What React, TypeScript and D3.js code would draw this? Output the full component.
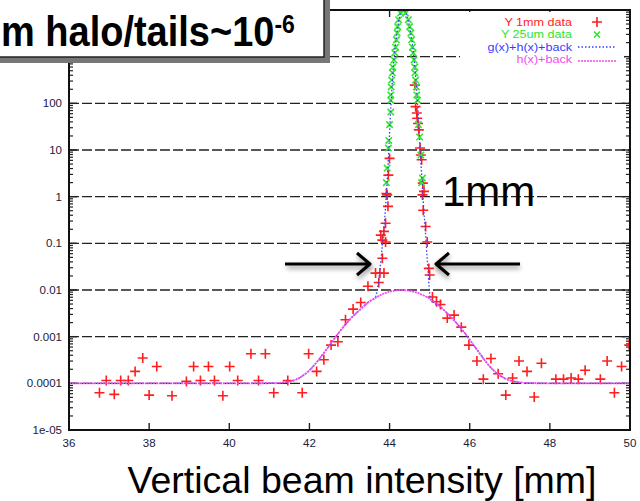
import React from "react";
import * as d3 from "d3";

const W = 640;
const H = 501;

const xTicks = [36, 38, 40, 42, 44, 46, 48, 50];
const yTickValues = [1e-5, 1e-4, 1e-3, 1e-2, 1e-1, 1, 10, 100, 1000, 10000];
const yTickLabels = ["1e-05", "0.0001", "0.001", "0.01", "0.1", "1", "10", "100"];

// Y 1mm data (red +)
const redX = [
  36.76, 36.93, 37.13, 37.29, 37.48, 37.65, 37.84, 38.0, 38.19, 38.57, 38.93, 39.11, 39.28, 39.48, 39.63,
  39.84, 40.01, 40.21, 40.54, 40.73, 40.9, 41.11, 41.46, 41.82, 41.98, 42.18, 42.36, 42.54, 42.71, 42.9,
  43.09, 43.28, 43.46, 43.65, 43.73, 43.76, 43.86, 43.82, 43.9, 43.82, 43.78, 43.86, 43.9, 43.96, 43.94,
  43.92, 43.97, 44.0, 44.63, 44.65, 44.68, 44.69, 44.71, 44.73, 44.76, 44.78, 44.8, 44.83, 44.86, 44.82,
  44.84, 44.9, 44.94, 44.98, 45.0, 45.07, 45.17, 45.27, 45.44, 45.61, 45.79, 45.98, 46.18, 46.53, 46.34,
  46.71, 46.9, 47.07, 47.23, 47.43, 47.61, 47.79, 48.15, 48.34, 48.53, 48.71, 48.88, 49.26, 49.43, 49.61,
  49.79, 49.98,
];
const redV = [
  6.3e-5, 1.15e-4, 5.8e-5, 1.15e-4, 1.15e-4, 1.8e-4, 3.5e-4, 5.6e-5, 2.3e-4, 5.4e-5, 1.1e-4, 2.3e-4, 1.15e-4, 2.3e-4, 1.15e-4,
  5.4e-5, 2.3e-4, 1.15e-4, 4.3e-4, 1.15e-4, 4.3e-4, 6.3e-5, 1.15e-4, 6.3e-5, 4.3e-4, 1.8e-4, 3.2e-4, 6.6e-4, 7.8e-4, 2.3e-3,
  3.9e-3, 5.4e-3, 0.012, 0.023, 0.0145, 0.023, 0.023, 0.048, 0.107, 0.117, 0.15, 0.18, 0.27, 0.62, 1.09,
  1.17, 2.9, 6.6, 245, 85, 62, 48, 37, 27, 11, 7.8, 6.2, 1.95, 1.3, 1.09,
  0.51, 0.23, 0.107, 0.029, 0.021, 0.0071, 0.0056, 0.0049, 0.0025, 0.0029, 0.0016, 6.6e-4, 3.0e-4, 3.4e-4, 1.23e-4,
  1.6e-4, 5.6e-5, 1.3e-4, 3.0e-4, 1.8e-4, 5.1e-5, 2.7e-4, 1.23e-4, 1.23e-4, 1.3e-4, 1.23e-4, 1.9e-4, 1.23e-4, 3.0e-4, 6.3e-5,
  2.3e-4, 6.6e-4,
];

// Y 25um data (green x)
const greenX = [
  44.32, 44.275, 44.225, 44.2, 44.19, 44.17, 44.15, 44.13, 44.11, 44.08, 44.07, 44.05, 44.04, 44.03, 44.03, 44.03,
  44.0, 43.98, 43.97, 43.94, 43.92,
  44.36, 44.4, 44.47, 44.5, 44.53, 44.55, 44.57, 44.59, 44.61, 44.63, 44.63, 44.65, 44.67, 44.68, 44.7, 44.72,
  44.75, 44.78, 44.8, 44.82,
];
const greenV = [
  10000, 8600, 6200, 4400, 3200, 2300, 1600, 1200, 850, 600, 450, 316, 224, 151, 117, 65,
  35, 16, 11, 4.1, 2.0,
  10000, 8600, 6200, 4400, 3200, 2300, 1600, 1200, 850, 600, 450, 316, 224, 151, 117, 35,
  19, 7.8, 2.0, 2.5,
];

// g(x)+h(x)+back (blue dotted)
const blueX = [
  36, 40, 41, 41.5, 41.75, 42, 42.25, 42.5, 42.75, 43, 43.25, 43.5, 43.64, 43.7, 43.8, 43.88, 43.93, 43.98,
  44.03, 44.1, 44.18, 44.27, 44.34, 44.42, 44.52, 44.6, 44.66, 44.72, 44.78, 44.84, 44.9, 44.96, 45.02, 45.25,
  45.5, 45.75, 46, 46.25, 46.5, 46.75, 47, 47.5, 48, 50,
];
const blueV = [
  1e-4, 1e-4, 1.006e-4, 1.09e-4, 1.31e-4, 1.9e-4, 3.36e-4, 6.5e-4, 1.27e-3, 2.3e-3, 3.7e-3, 5.7e-3, 0.0068, 0.011, 0.06, 0.35, 1.5, 10,
  80, 700, 3000, 8500, 11000, 8000, 3500, 1100, 300, 50, 6, 0.8, 0.15, 0.025, 0.0063, 4.5e-3,
  2.8e-3, 1.63e-3, 8.6e-4, 4.37e-4, 2.3e-4, 1.48e-4, 1.16e-4, 1.01e-4, 1e-4, 1e-4,
];

// h(x)+back (magenta dotted)
const magX = [
  36, 40, 41, 41.5, 41.75, 42, 42.25, 42.5, 42.75, 43, 43.25, 43.5, 43.75, 44, 44.3, 44.6, 45, 45.25, 45.5,
  45.75, 46, 46.25, 46.5, 46.75, 47, 47.5, 48, 50,
];
const magV = [
  1e-4, 1e-4, 1.006e-4, 1.09e-4, 1.31e-4, 1.9e-4, 3.36e-4, 6.5e-4, 1.27e-3, 2.3e-3, 3.7e-3, 5.7e-3, 7.6e-3, 9.2e-3, 0.01, 9.2e-3, 6.5e-3, 4.5e-3, 2.8e-3,
  1.63e-3, 8.6e-4, 4.37e-4, 2.3e-4, 1.48e-4, 1.16e-4, 1.01e-4, 1e-4, 1e-4,
];

const legendLabels = ["Y 1mm data", "Y 25um data", "g(x)+h(x)+back", "h(x)+back"];

const RED = "#ff1e1e";
const GREEN = "#2ee62e";
const BLUE = "#3a3aff";
const MAGENTA = "#f04af0";

export default function App() {
  const left = 69, right = 630, top = 10, bottom = 430;
  const x = d3.scaleLinear().domain([36, 50]).range([left, right]);
  const y = d3.scaleLog().domain([1e-5, 1e4]).range([bottom, top]);

  const line = d3
    .line<[number, number]>()
    .x((d) => x(d[0]))
    .y((d) => y(d[1]))
    .curve(d3.curveMonotoneX);

  const bluePts = blueX.map((v, i) => [v, blueV[i]] as [number, number]);
  const magPts = magX.map((v, i) => [v, magV[i]] as [number, number]);

  const minor: number[] = [];
  for (let e = -5; e < 4; e++) {
    for (let m = 2; m <= 9; m++) minor.push(m * Math.pow(10, e));
  }

  const tickColor = "#20203a";

  return (
    <svg
      width={W}
      height={H}
      style={{ position: "absolute", left: 0, top: 0, background: "#fff" }}
      fontFamily="Liberation Sans, Arial, sans-serif"
    >
      <defs>
        <clipPath id="plotClip">
          <rect x={left} y={top} width={right - left} height={bottom - top} />
        </clipPath>
        <filter id="blur" x="-20%" y="-50%" width="140%" height="200%">
          <feGaussianBlur stdDeviation="2.5" />
        </filter>
      </defs>
      <rect x={0} y={0} width={W} height={H} fill="#fff" />

      {/* grid lines */}
      {yTickValues.slice(1, -1).map((v) => (
        <line
          key={"g" + v}
          x1={left}
          x2={right}
          y1={y(v)}
          y2={y(v)}
          stroke="#222"
          strokeWidth={1.4}
          strokeDasharray="10,3"
        />
      ))}

      {/* minor ticks */}
      {minor.map((v, i) => (
        <g key={"m" + i}>
          <line x1={left} x2={left + 4} y1={y(v)} y2={y(v)} stroke="#222" strokeWidth={1.2} />
          <line x1={right - 4} x2={right} y1={y(v)} y2={y(v)} stroke="#222" strokeWidth={1.2} />
        </g>
      ))}
      {yTickValues.map((v) => (
        <g key={"M" + v}>
          <line x1={left} x2={left + 8} y1={y(v)} y2={y(v)} stroke="#222" strokeWidth={1.4} />
          <line x1={right - 8} x2={right} y1={y(v)} y2={y(v)} stroke="#222" strokeWidth={1.4} />
        </g>
      ))}
      {xTicks.map((v) => (
        <g key={"xt" + v}>
          <line x1={x(v)} x2={x(v)} y1={bottom} y2={bottom - 7} stroke="#222" strokeWidth={1.4} />
          <line x1={x(v)} x2={x(v)} y1={top} y2={top + 7} stroke="#222" strokeWidth={1.4} />
        </g>
      ))}

      {/* data */}
      <g clipPath="url(#plotClip)">
        {redX.map((v, i) => {
          const cx = x(v), cy = y(redV[i]);
          return (
            <path
              key={"r" + i}
              d={`M${cx - 5},${cy}H${cx + 5}M${cx},${cy - 5}V${cy + 5}`}
              stroke={RED}
              strokeWidth={1.6}
            />
          );
        })}
        {greenX.map((v, i) => {
          const cx = x(v), cy = y(greenV[i]);
          return (
            <path
              key={"gr" + i}
              d={`M${cx - 3.2},${cy - 3.2}L${cx + 3.2},${cy + 3.2}M${cx - 3.2},${cy + 3.2}L${cx + 3.2},${cy - 3.2}`}
              stroke={GREEN}
              strokeWidth={1.6}
            />
          );
        })}
        <path d={line(bluePts) || ""} fill="none" stroke={BLUE} strokeWidth={1.3} strokeDasharray="1.5,2" />
        <path d={line(magPts) || ""} fill="none" stroke={MAGENTA} strokeWidth={1.8} strokeDasharray="2,0.8" />
      </g>

      {/* frame */}
      <rect x={left} y={top} width={right - left} height={bottom - top} fill="none" stroke="#111" strokeWidth={2} />

      {/* tick labels */}
      {yTickLabels.map((t, i) => (
        <text
          key={"yl" + t}
          x={62}
          y={y(yTickValues[i]) + 4}
          textAnchor="end"
          fontSize={11.5}
          fill={tickColor}
        >
          {t}
        </text>
      ))}
      {xTicks.map((v) => (
        <text key={"xl" + v} x={x(v)} y={447} textAnchor="middle" fontSize={11.5} fill={tickColor}>
          {v}
        </text>
      ))}

      {/* legend */}
      <rect x={460} y={12} width={164} height={56} fill="#fff" />
      {legendLabels.map((t, i) => (
        <g key={t} transform={`translate(572,${26 + i * 12.4}) scale(1.2,1)`}>
          <text x={0} y={0} textAnchor="end" fontSize={10.5} fill={[RED, GREEN, BLUE, MAGENTA][i]}>
            {t}
          </text>
        </g>
      ))}
      <path d="M592,22H602M597,17V27" stroke={RED} strokeWidth={1.6} />
      <path d="M594,31.5L600,37.5M594,37.5L600,31.5" stroke={GREEN} strokeWidth={1.6} />
      <line x1={578} x2={615} y1={47} y2={47} stroke={BLUE} strokeWidth={1.3} strokeDasharray="1.5,2" />
      <line x1={578} x2={616} y1={61} y2={61} stroke={MAGENTA} strokeWidth={1.5} strokeDasharray="2,1" />

      {/* title box */}
      <rect x={-10} y={-10} width={340} height={73} fill="#777" />
      <rect x={-10} y={-10} width={334} height={67} fill="#fff" stroke="#222" strokeWidth={1.5} />
      <g transform="translate(1,46) scale(1,1.12)">
        <text x={0} y={0} fontSize={38} fontWeight="bold" fill="#000">
          m halo/tails~10
          <tspan fontSize={23} dy={-12}>-6</tspan>
        </text>
      </g>

      {/* annotations */}
      <text x={442} y={206} fontSize={42} fill="#000">
        1mm
      </text>
      <g filter="url(#blur)" opacity={0.45}>
        <path d="M287,267H370M358,256L371,267L358,278" fill="none" stroke="#000" strokeWidth={3} />
        <path d="M520,267H437M449,256L436,267L449,278" fill="none" stroke="#000" strokeWidth={3} />
      </g>
      <path d="M285,264H368M357,253L370,264L357,275" fill="none" stroke="#000" strokeWidth={3} strokeLinejoin="round" />
      <path d="M520,264H438M449,253L436,264L449,275" fill="none" stroke="#000" strokeWidth={3} strokeLinejoin="round" />

      {/* axis title */}
      <text x={362} y={493} textAnchor="middle" fontSize={37.5} fill="#000">
        Vertical beam intensity [mm]
      </text>
    </svg>
  );
}
